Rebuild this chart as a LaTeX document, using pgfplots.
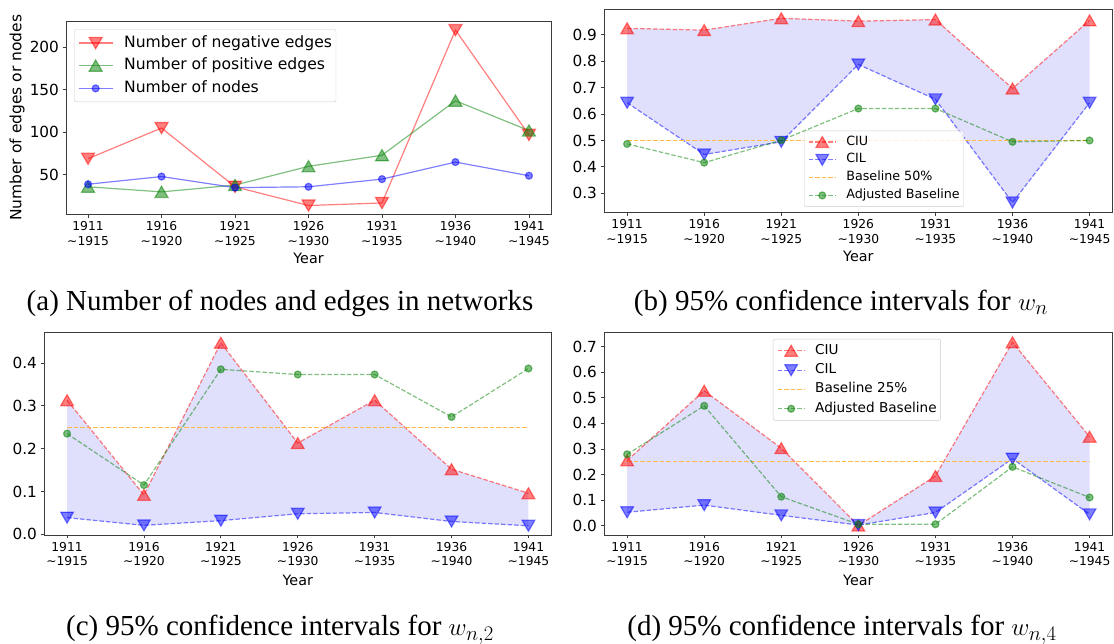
\documentclass[border=0pt]{standalone}
\usepackage[no-math]{fontspec}
\setmainfont{DejaVu Sans}
\newfontfamily\capfont{Liberation Serif}
\usepackage{pgfplots}
\pgfplotsset{compat=1.18}
\usepgfplotslibrary{fillbetween}
\definecolor{mred}{RGB}{255,0,0}
\definecolor{mgreen}{RGB}{0,128,0}
\definecolor{mblue}{RGB}{0,0,255}
\definecolor{baseorange}{RGB}{255,185,70}
\definecolor{mfill}{RGB}{224,224,252}
\definecolor{spine}{RGB}{60,60,60}

\pgfplotsset{
  panel/.style={
    scale only axis, clip=false,
    xmin=-0.3, xmax=6.3,
    xtick={0,1,2,3,4,5,6},
    xticklabels={{1911\\\textasciitilde1915},{1916\\\textasciitilde1920},{1921\\\textasciitilde1925},{1926\\\textasciitilde1930},{1931\\\textasciitilde1935},{1936\\\textasciitilde1940},{1941\\\textasciitilde1945}},
    xticklabel style={font=\fontsize{12.3}{14.7}\selectfont, align=center},
    yticklabel style={font=\fontsize{15.3}{18}\selectfont},
    /pgf/number format/assume math mode=true,
    tick align=outside,
    xtick pos=bottom, ytick pos=left,
    major tick length=3.5pt,
    tick style={spine, line width=0.8pt},
    axis line style={spine, line width=0.8pt},
    xlabel=Year,
    legend cell align=left,
  },
  xlab/.style={every axis x label/.style={at={(axis description cs:0.5,#1)}, anchor=center, font=\fontsize{14.3}{17}\selectfont}},
  onedec/.style={yticklabel style={/pgf/number format/fixed, /pgf/number format/fixed zerofill, /pgf/number format/precision=1}},
  lw/.style={line width=1.2pt},
  dsh/.style={dash pattern=on 4.5pt off 2pt},
  redU/.style={mred, opacity=0.5, lw, dsh, mark=triangle*, mark size=7.3pt, mark options={solid, yshift=-1.8pt}},
  blueL/.style={mblue, opacity=0.5, lw, dsh, mark=triangle*, mark size=7.3pt, mark options={solid, yshift=1.8pt, rotate=180}},
  baseS/.style={color=baseorange, line width=1.3pt, dsh, mark=none},
  adjS/.style={mgreen, opacity=0.5, lw, dsh, mark=*, mark size=3.5pt, mark options={solid}},
  smallleg/.style={
    legend image code/.code={\draw[mark repeat=2, mark phase=2] plot coordinates {(0pt,0pt) (13.4pt,0pt) (26.8pt,0pt)};},
    legend style={font=\fontsize{12.7}{15}\selectfont, draw=black!20, rounded corners=2pt, fill=white, fill opacity=0.8, text opacity=1,
      inner xsep=4pt, inner ysep=5pt, row sep=5.5pt,
      nodes={inner sep=0pt, text height=9.3pt, text depth=3pt},
      /tikz/every odd column/.append style={column sep=10pt}},
  },
}

\begin{document}
\begin{tikzpicture}[x=1pt,y=1pt]

% ---------------- (a)
\begin{axis}[panel, xlab=-0.228, at={(66pt,429.7pt)}, anchor=south west, width=485pt, height=193pt,
  ymin=3.7, ymax=230.3, ytick={50,100,150,200},
  ylabel={Number of edges or nodes},
  every axis y label/.style={at={(axis description cs:-0.101,0.5)}, rotate=90, anchor=center, font=\fontsize{15.5}{18}\selectfont},
  legend image code/.code={\draw[mark repeat=2, mark phase=2] plot coordinates {(0pt,0pt) (16.85pt,0pt) (33.7pt,0pt)};},
  legend style={at={(0.0165,0.9585)}, anchor=north west, font=\fontsize{15.6}{18}\selectfont,
    draw=black!20, rounded corners=2pt, fill=white, fill opacity=0.8, text opacity=1,
    inner xsep=4pt, inner ysep=6pt, row sep=7.7pt,
    nodes={inner sep=0pt, text height=11.5pt, text depth=3.5pt},
    /tikz/every odd column/.append style={column sep=11pt}},
]
\addplot[mred, opacity=0.5, lw, mark=triangle*, mark size=7.5pt, mark options={yshift=1.8pt, rotate=180}]
  coordinates {(0,69) (1,105) (2,36) (3,14) (4,17) (5,220) (6,97)};
\addlegendentry{Number of negative edges}
\addplot[mgreen, opacity=0.5, lw, mark=triangle*, mark size=7.5pt, mark options={yshift=-1.8pt}]
  coordinates {(0,36) (1,30) (2,38) (3,60) (4,73) (5,137) (6,102)};
\addlegendentry{Number of positive edges}
\addplot[mblue, opacity=0.5, lw, mark=*, mark size=3.5pt]
  coordinates {(0,39) (1,48) (2,35) (3,36) (4,45) (5,65) (6,49)};
\addlegendentry{Number of nodes}
\end{axis}

% ---------------- (b)
\begin{axis}[panel, xlab=-0.219, onedec, smallleg, at={(604pt,431.7pt)}, anchor=south west, width=508.7pt, height=203pt,
  ymin=0.228, ymax=0.997, ytick={0.3,0.4,0.5,0.6,0.7,0.8,0.9},
  legend style={at={(0.3932,0.402)}, anchor=north west},
]
\addplot[draw=none, mark=none, forget plot, name path=U] coordinates {(0,0.925) (1,0.918) (2,0.963) (3,0.952) (4,0.958) (5,0.697) (6,0.955)};
\addplot[draw=none, mark=none, forget plot, name path=L] coordinates {(0,0.643) (1,0.447) (2,0.495) (3,0.788) (4,0.656) (5,0.265) (6,0.643)};
\addplot[mfill, forget plot] fill between[of=U and L];
\addplot[redU] coordinates {(0,0.925) (1,0.918) (2,0.963) (3,0.952) (4,0.958) (5,0.697) (6,0.955)};
\addlegendentry{CIU}
\addplot[blueL] coordinates {(0,0.643) (1,0.447) (2,0.495) (3,0.788) (4,0.656) (5,0.265) (6,0.643)};
\addlegendentry{CIL}
\addplot[baseS] coordinates {(0,0.5) (6,0.5)};
\addlegendentry{Baseline 50\%}
\addplot[adjS] coordinates {(0,0.487) (1,0.416) (2,0.501) (3,0.621) (4,0.621) (5,0.495) (6,0.500)};
\addlegendentry{Adjusted Baseline}
\end{axis}

% ---------------- (c)
\begin{axis}[panel, xlab=-0.222, onedec, at={(44pt,109pt)}, anchor=south west, width=507.5pt, height=202.7pt,
  ymin=-0.0015, ymax=0.4715, ytick={0,0.1,0.2,0.3,0.4},
]
\addplot[draw=none, mark=none, forget plot, name path=U] coordinates {(0,0.313) (1,0.092) (2,0.447) (3,0.213) (4,0.313) (5,0.152) (6,0.096)};
\addplot[draw=none, mark=none, forget plot, name path=L] coordinates {(0,0.039) (1,0.021) (2,0.032) (3,0.048) (4,0.051) (5,0.030) (6,0.020)};
\addplot[mfill, forget plot] fill between[of=U and L];
\addplot[redU] coordinates {(0,0.313) (1,0.092) (2,0.447) (3,0.213) (4,0.313) (5,0.152) (6,0.096)};
\addplot[blueL] coordinates {(0,0.039) (1,0.021) (2,0.032) (3,0.048) (4,0.051) (5,0.030) (6,0.020)};
\addplot[baseS] coordinates {(0,0.25) (6,0.25)};
\addplot[adjS] coordinates {(0,0.235) (1,0.115) (2,0.385) (3,0.373) (4,0.373) (5,0.274) (6,0.387)};
\end{axis}

% ---------------- (d)
\begin{axis}[panel, xlab=-0.222, onedec, smallleg, at={(604pt,109pt)}, anchor=south west, width=508.7pt, height=202.7pt,
  ymin=-0.037, ymax=0.757, ytick={0,0.1,0.2,0.3,0.4,0.5,0.6,0.7},
  legend style={at={(0.332,0.967)}, anchor=north west, font=\fontsize{13.6}{16}\selectfont,
    row sep=6pt, nodes={text height=10pt, text depth=3.3pt}},
]
\addplot[draw=none, mark=none, forget plot, name path=U] coordinates {(0,0.255) (1,0.528) (2,0.303) (3,0.000) (4,0.194) (5,0.718) (6,0.348)};
\addplot[draw=none, mark=none, forget plot, name path=L] coordinates {(0,0.052) (1,0.080) (2,0.040) (3,0.002) (4,0.051) (5,0.262) (6,0.044)};
\addplot[mfill, forget plot] fill between[of=U and L];
\addplot[redU] coordinates {(0,0.255) (1,0.528) (2,0.303) (3,0.000) (4,0.194) (5,0.718) (6,0.348)};
\addlegendentry{CIU}
\addplot[blueL] coordinates {(0,0.052) (1,0.080) (2,0.040) (3,0.002) (4,0.051) (5,0.262) (6,0.044)};
\addlegendentry{CIL}
\addplot[baseS] coordinates {(0,0.25) (6,0.25)};
\addlegendentry{Baseline 25\%}
\addplot[adjS] coordinates {(0,0.279) (1,0.469) (2,0.113) (3,0.005) (4,0.005) (5,0.230) (6,0.110)};
\addlegendentry{Adjusted Baseline}
\end{axis}

% captions
\node[anchor=base, font=\capfont\fontsize{29}{34}\selectfont] at (280pt,333pt) {(a) Number of nodes and edges in networks};
\node[anchor=base, font=\capfont\fontsize{29}{34}\selectfont] at (841pt,333pt) {(b) 95\% confidence intervals for $w_n$};
\node[anchor=base, font=\capfont\fontsize{29}{34}\selectfont] at (280pt,8pt) {(c) 95\% confidence intervals for $w_{n,2}$};
\node[anchor=base, font=\capfont\fontsize{29}{34}\selectfont] at (842pt,8pt) {(d) 95\% confidence intervals for $w_{n,4}$};
\pgfresetboundingbox
\useasboundingbox (0pt,0pt) rectangle (1114pt,644pt);
\end{tikzpicture}
\end{document}
